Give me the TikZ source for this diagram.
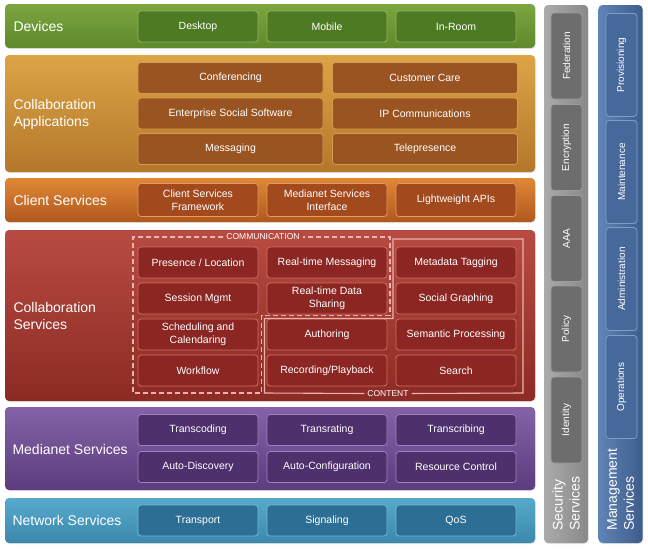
\documentclass[tikz,border=0pt]{standalone}
\usepackage{fontspec}
\setmainfont{Liberation Sans}
\usetikzlibrary{positioning,shadows}

% layer colours
\definecolor{devtop}{HTML}{7CA540}
\definecolor{devbot}{HTML}{5E8A2C}
\definecolor{devbox}{HTML}{4F7A24}
\definecolor{devline}{HTML}{8DB85C}
\definecolor{apptop}{HTML}{DCA446}
\definecolor{appbot}{HTML}{B4772A}
\definecolor{appbox}{HTML}{9A5421}
\definecolor{appline}{HTML}{D49B52}
\definecolor{clitop}{HTML}{E08836}
\definecolor{clibot}{HTML}{B0581D}
\definecolor{clibox}{HTML}{A2491D}
\definecolor{cliline}{HTML}{E29A5E}
\definecolor{coltop}{HTML}{B84B41}
\definecolor{colbot}{HTML}{8B2B24}
\definecolor{colbox}{HTML}{8B2622}
\definecolor{colline}{HTML}{D06D63}
\definecolor{medtop}{HTML}{8462A7}
\definecolor{medbot}{HTML}{5C3C7D}
\definecolor{medbox}{HTML}{4E306C}
\definecolor{medline}{HTML}{9D82BD}
\definecolor{nettop}{HTML}{56AACD}
\definecolor{netbot}{HTML}{3C88AB}
\definecolor{netbox}{HTML}{2C6E94}
\definecolor{netline}{HTML}{72BADA}
\definecolor{sectop}{HTML}{ABABAB}
\definecolor{secbot}{HTML}{888888}
\definecolor{secbox}{HTML}{6D6D6D}
\definecolor{secline}{HTML}{9C9C9C}
\definecolor{mgttop}{HTML}{5F84B5}
\definecolor{mgtbot}{HTML}{3D5C8C}
\definecolor{mgtbox}{HTML}{46689B}
\definecolor{mgtline}{HTML}{7F9DCA}
\definecolor{outline}{HTML}{EBB3AC}

\begin{document}
\begin{tikzpicture}[x=1pt, y=-1pt, node distance=129pt,
    layer/.style={rounded corners=4pt, minimum width=530pt, inner sep=0pt,
      drop shadow={opacity=0.2, shadow xshift=0.8pt, shadow yshift=-1pt}},
    column/.style={layer, minimum width=538pt, minimum height=44pt, rotate=90},
    title/.style={anchor=west, align=left, text=white,
      font=\fontsize{14}{17}\selectfont},
    cell/.style={draw, line width=0.8pt, rounded corners=3pt, minimum width=120pt,
      minimum height=31pt, inner sep=1pt, align=center, text=white,
      font=\fontsize{10.5}{12.5}\selectfont},
    wide/.style={cell, minimum width=185pt},
    side/.style={cell, rotate=90, minimum height=31pt, font=\fontsize{10}{12}\selectfont},
    tag/.style={text=white, inner sep=3pt, font=\fontsize{8.5}{10}\selectfont}]

\useasboundingbox (0,0) rectangle (648,552);

% horizontal layers
\node [layer, minimum height=44pt, top color=devtop, bottom color=devbot] (devices) at (270,26) {};
\node [layer, minimum height=117pt, top color=apptop, bottom color=appbot] (apps) at (270,113.5) {};
\node [layer, minimum height=44pt, top color=clitop, bottom color=clibot] (client) at (270,200) {};
\node [layer, minimum height=171pt, top color=coltop, bottom color=colbot] (collab) at (270,315.5) {};
\node [layer, minimum height=83pt, top color=medtop, bottom color=medbot] (medianet) at (270,448.5) {};
\node [layer, minimum height=45pt, top color=nettop, bottom color=netbot] (network) at (270,520.5) {};

\node [title] (devtitle) at (10,26) {Devices};
\node [title] (apptitle) at (10,114) {Collaboration\\Applications};
\node [title] (clititle) at (10,200) {Client Services};
\node [title] (coltitle) at (10,316) {Collaboration\\Services};
\node [title] (medtitle) at (9,449) {Medianet Services};
\node [title] (nettitle) at (9,520) {Network Services};

% devices
\node [cell, fill=devbox, draw=devline] (desktop) at (198,26.5) {Desktop};
\node [cell, fill=devbox, draw=devline, right of=desktop] (mobile) {Mobile};
\node [cell, fill=devbox, draw=devline, right of=mobile] (inroom) {In-Room};

% collaboration applications
\node [wide, fill=appbox, draw=appline] (conf) at (230.5,78) {Conferencing};
\node [wide, fill=appbox, draw=appline, right of=conf, node distance=194.5pt] (care) {Customer Care};
\node [wide, fill=appbox, draw=appline, below of=conf, node distance=35.5pt] (ess) {Enterprise Social Software};
\node [wide, fill=appbox, draw=appline, right of=ess, node distance=194.5pt] (ipc) {IP Communications};
\node [wide, fill=appbox, draw=appline, below of=ess, node distance=35.5pt] (msg) {Messaging};
\node [wide, fill=appbox, draw=appline, right of=msg, node distance=194.5pt] (tele) {Telepresence};

% client services
\node [cell, fill=clibox, draw=cliline, minimum height=33pt] (csf) at (198,200) {Client Services\\Framework};
\node [cell, fill=clibox, draw=cliline, minimum height=33pt, right of=csf] (msi) {Medianet Services\\Interface};
\node [cell, fill=clibox, draw=cliline, minimum height=33pt, right of=msi] (lapi) {Lightweight APIs};

% collaboration services
\node [cell, fill=colbox, draw=colline] (presence) at (198,262.5) {Presence / Location};
\node [cell, fill=colbox, draw=colline, right of=presence] (rtmsg) {Real-time Messaging};
\node [cell, fill=colbox, draw=colline, right of=rtmsg] (meta) {Metadata Tagging};
\node [cell, fill=colbox, draw=colline, below of=presence, node distance=36pt] (session) {Session Mgmt};
\node [cell, fill=colbox, draw=colline, right of=session] (rtdata) {Real-time Data\\Sharing};
\node [cell, fill=colbox, draw=colline, right of=rtdata] (social) {Social Graphing};
\node [cell, fill=colbox, draw=colline, below of=session, node distance=36pt] (sched) {Scheduling and\\Calendaring};
\node [cell, fill=colbox, draw=colline, right of=sched] (author) {Authoring};
\node [cell, fill=colbox, draw=colline, right of=author] (semantic) {Semantic Processing};
\node [cell, fill=colbox, draw=colline, below of=sched, node distance=36pt] (workflow) {Workflow};
\node [cell, fill=colbox, draw=colline, right of=workflow] (record) {Recording/Playback};
\node [cell, fill=colbox, draw=colline, right of=record] (search) {Search};

\node [tag] (comm) at (263,237) {COMMUNICATION};
\node [tag] (content) at (388,393.5) {CONTENT};
\draw [outline, line width=1.1pt, dash pattern=on 5pt off 3pt]
  (comm.west) -- (133,237) -- (133,393) -- (261.5,393) -- (261.5,315.5)
  -- (390,315.5) -- (390,237) -- (comm.east);
\draw [outline, line width=1.1pt]
  (content.east) -- (523,393) -- (523,239) -- (393,239) -- (393,318.5)
  -- (264.5,318.5) -- (264.5,393) -- (content.west);

% medianet services
\node [cell, fill=medbox, draw=medline] (transcode) at (198,430) {Transcoding};
\node [cell, fill=medbox, draw=medline, right of=transcode] (transrate) {Transrating};
\node [cell, fill=medbox, draw=medline, right of=transrate] (transcribe) {Transcribing};
\node [cell, fill=medbox, draw=medline, below of=transcode, node distance=37pt] (autodisc) {Auto-Discovery};
\node [cell, fill=medbox, draw=medline, right of=autodisc] (autoconf) {Auto-Configuration};
\node [cell, fill=medbox, draw=medline, right of=autoconf] (resource) {Resource Control};

% network services
\node [cell, fill=netbox, draw=netline] (transport) at (198,520.5) {Transport};
\node [cell, fill=netbox, draw=netline, right of=transport] (signal) {Signaling};
\node [cell, fill=netbox, draw=netline, right of=signal] (qos) {QoS};

% vertical columns
\node [column, left color=sectop, right color=secbot] (security) at (566,274) {};
\node [column, left color=mgttop, right color=mgtbot] (mgmt) at (620.5,274) {};

\node [side, fill=secbox, draw=secline, minimum width=86pt] (federation) at (566.5,56) {Federation};
\node [side, fill=secbox, draw=secline, minimum width=86pt] (encrypt) at (566.5,147.5) {Encryption};
\node [side, fill=secbox, draw=secline, minimum width=86pt] (aaa) at (566.5,238.5) {AAA};
\node [side, fill=secbox, draw=secline, minimum width=86pt] (policy) at (566.5,329) {Policy};
\node [side, fill=secbox, draw=secline, minimum width=86pt] (identity) at (566.5,420) {Identity};
\node [title, rotate=90, anchor=west] (sectitle) at (566,534) {Security\\Services};

\node [side, fill=mgtbox, draw=mgtline, minimum width=103pt] (provision) at (621.5,65) {Provisioning};
\node [side, fill=mgtbox, draw=mgtline, minimum width=103pt] (maint) at (621.5,172) {Maintenance};
\node [side, fill=mgtbox, draw=mgtline, minimum width=103pt] (admin) at (621.5,279) {Administration};
\node [side, fill=mgtbox, draw=mgtline, minimum width=103pt] (ops) at (621.5,387) {Operations};
\node [title, rotate=90, anchor=west] (mgttitle) at (620.5,534) {Management\\Services};
\end{tikzpicture}
\end{document}
